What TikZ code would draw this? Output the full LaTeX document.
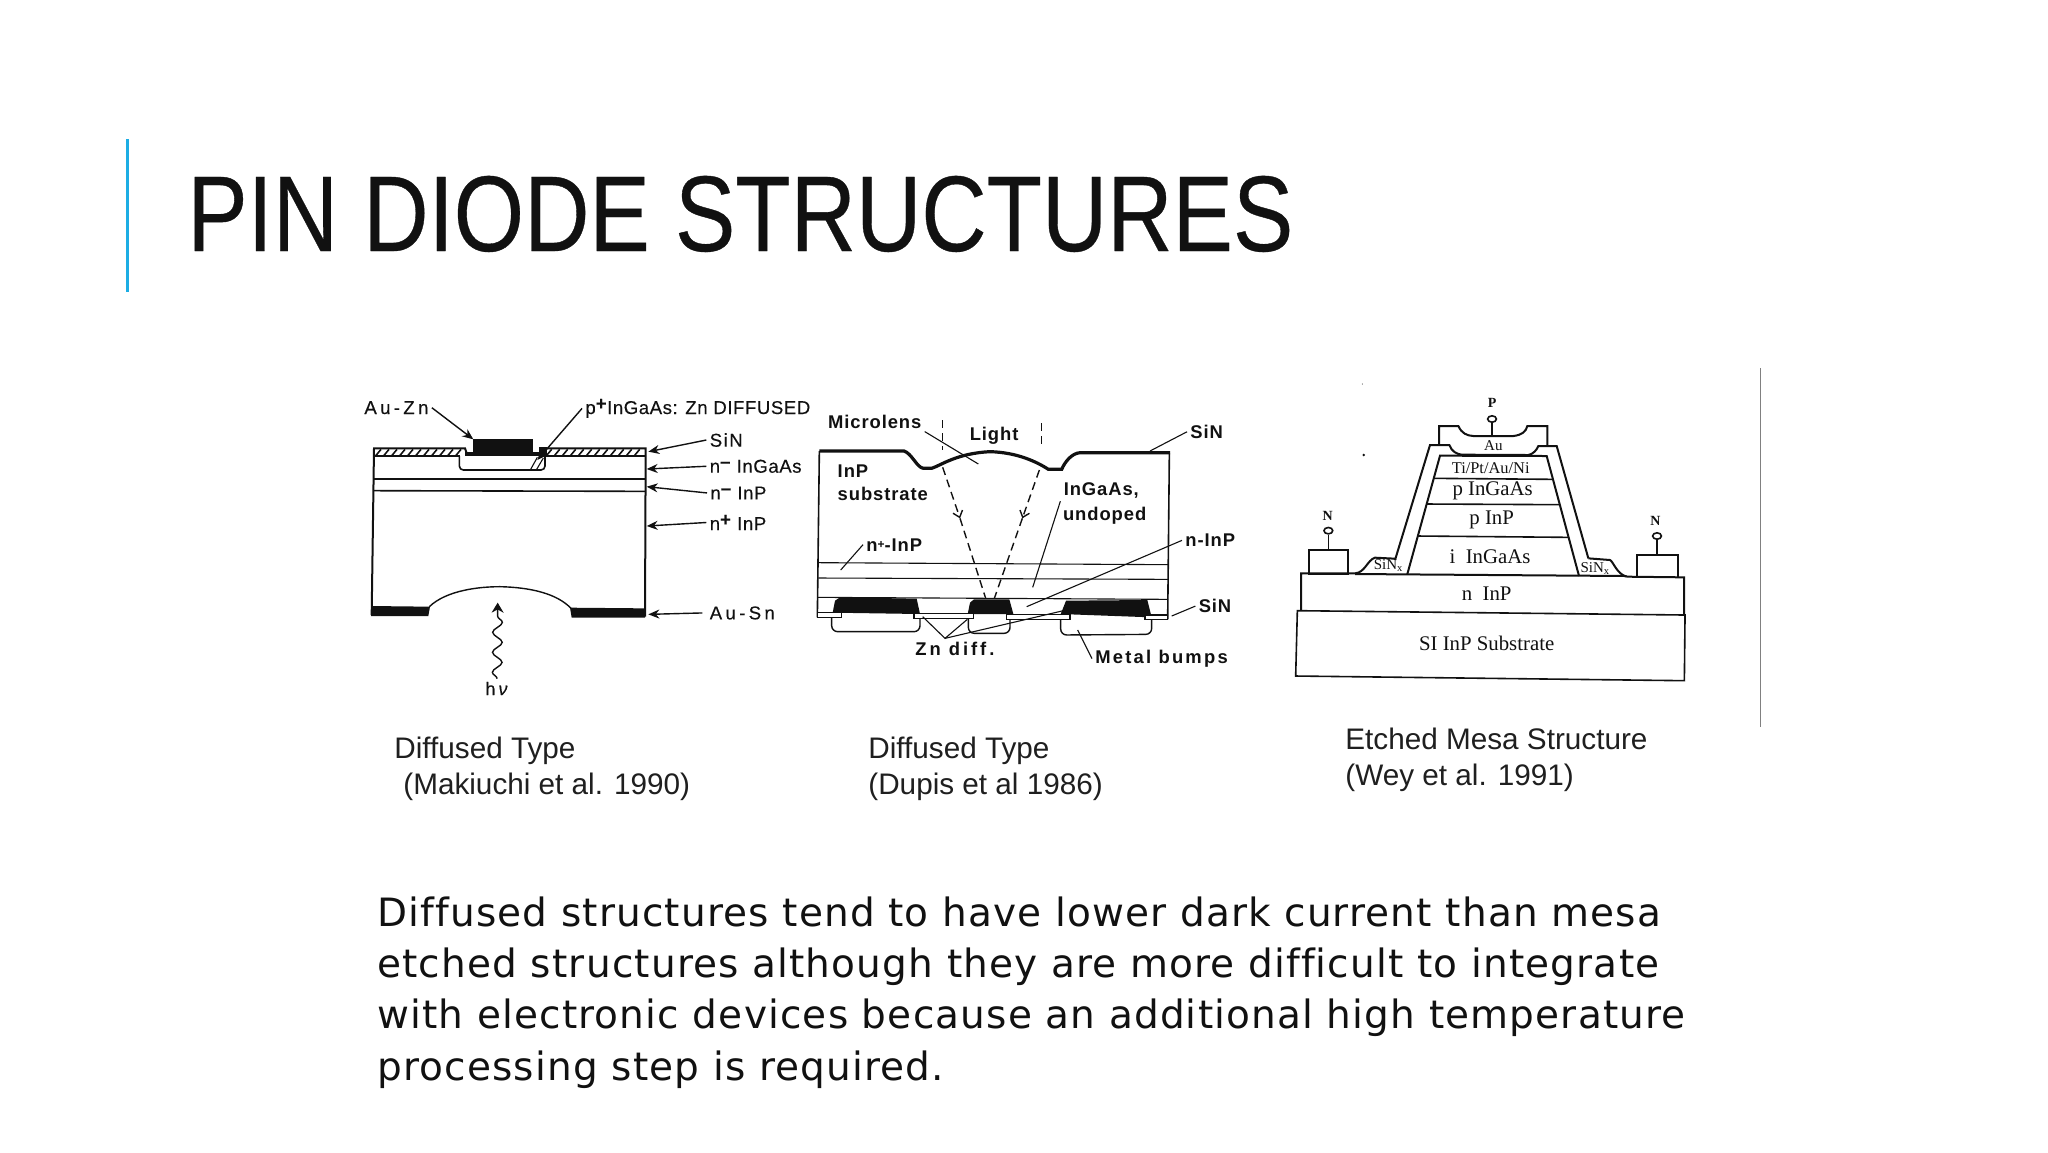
\documentclass[tikz,border=0pt]{standalone}
\usepackage{fontspec}
\setmainfont{Liberation Sans}
\newfontfamily\titlef[FakeBold=0.35]{Liberation Sans}
\newfontfamily\scanA[LetterSpace=3,FakeBold=0.25]{Liberation Sans}
\newfontfamily\scanS[LetterSpace=8,FakeBold=0.25]{Liberation Sans}
\newfontfamily\scanW[LetterSpace=18,FakeBold=0.25]{Liberation Sans}
\newfontfamily\scanB[LetterSpace=5]{Liberation Sans Bold}
\newfontfamily\scanBW[LetterSpace=12]{Liberation Sans Bold}
\newfontfamily\scanZ[LetterSpace=16]{Liberation Sans Bold}
\newfontfamily\serifd{Liberation Serif}
\newfontfamily\bodyf[LetterSpace=3,Ligatures=NoCommon]{DejaVu Sans}
\usetikzlibrary{arrows.meta,decorations.pathmorphing,shapes.geometric}
\newcommand{\fsz}[1]{\fontsize{#1}{#1}\selectfont}
\definecolor{ink}{HTML}{111111}
\definecolor{barblue}{HTML}{1CADE4}
\tikzset{
  lab/.style={inner sep=1.5pt,anchor=base west,xshift=-1.5pt,text=ink},
  laba/.style={lab,font=\scanA\fsz{9.3}},
  labs/.style={lab,font=\scanS\fsz{9.3}},
  labw/.style={lab,font=\scanW\fsz{9.3}},
  labb/.style={lab,font=\scanB\fsz{9.2}},
  slab/.style={inner sep=0pt,anchor=center,text=ink,font=\serifd\fsz{10.4}},
  caption/.style={inner sep=0pt,anchor=base west,text=black!88,font=\fsz{14.85}},
  bodyline/.style={inner sep=0pt,anchor=base west,text=ink,font=\bodyf\fsz{19.5}},
  arr/.style={ink,line width=.7pt,-{Stealth[length=5.5pt,width=4.5pt]}},
  thin line/.style={ink,line width=.55pt},
  outl/.style={ink,line width=1pt},
  term/.style={draw=ink,line width=.8pt,ellipse,inner sep=0pt,minimum width=4.4pt,minimum height=3.2pt},
  pad/.style={draw=ink,line width=.9pt,inner sep=0pt,anchor=north west},
  zoomA/.style={shift={(175pt,-190pt)},x=0.16667pt,y=-0.16667pt},
  zoomB/.style={shift={(405pt,-195pt)},x=0.16667pt,y=-0.16667pt},
  zoomC/.style={shift={(640pt,-185pt)},x=0.16667pt,y=-0.16667pt},
}
\begin{document}
\begin{tikzpicture}[x=.5pt,y=-.5pt]
\fill[white] (0,0) rectangle (2048,1152);
\useasboundingbox (0,0) rectangle (2048,1152);

% ---------- title ----------
\fill[barblue] (126,139) rectangle (129,292);
\node[inner sep=0pt,anchor=base west,xscale=.841,text=ink,font=\titlef\fsz{53.8}] (title) at (187,251) {PIN DIODE STRUCTURES};
\draw[black!50,line width=.45pt] (1760,368) -- (1760,727);

% ---------- diagram 1 ----------
\begin{scope}[zoomA]
  % well
  \draw[outl,rounded corners=2pt,line width=.8pt] (328,228) -- (328,270) -- (585,270) -- (585,228);
  \draw[thin line] (542,268) -- (562,232) (560,268) -- (580,234);
  % SiN hatch
  \foreach \hx in {78,102,...,330}{\draw[ink,line width=.8pt] (\hx,226) -- (\hx+15,208);}
  \foreach \hx in {590,614,...,870}{\draw[ink,line width=.8pt] (\hx,226) -- (\hx+15,208);}
  \draw[outl] (65,705) -- (72,205) -- (345,205) -- (350,220);
  \draw[outl] (570,205) -- (887,205) -- (885,710);
  \draw[thin line] (72,228) -- (330,228) (585,228) -- (887,228);
  \fill[ink] (345,216) rectangle (575,229);
  \fill[ink] (370,178) rectangle (550,222);
  \fill[ink] (568,200) rectangle (592,226);
  \draw[thin line] (72,297) -- (887,297);
  \draw[ink,line width=.8pt] (70,332) -- (885,334);
  % back contact and lens
  \fill[ink] (63,678) -- (240,680) -- (235,708) -- (63,708) -- cycle;
  \fill[ink] (660,683) -- (885,685) -- (885,713) -- (665,713) -- cycle;
  \draw[ink,line width=.7pt] (238,680) .. controls (290,630) and (390,620) .. (450,620) .. controls (540,622) and (620,640) .. (663,685);
  % labels
  \node[labw] (auzn) at (42,102) {Au-Zn};
  \node[laba] (pplus) at (705,102) {p\raisebox{.42ex}{\textbf{+}}InGaAs: Zn DIFFUSED};
  \node[labs] (sin1) at (1078,200) {SiN};
  \node[laba] (ningaas) at (1078,278) {n\raisebox{.5ex}{\textbf{–}} InGaAs};
  \node[laba] (ninp) at (1080,358) {n\raisebox{.5ex}{\textbf{–}} InP};
  \node[laba] (npinp) at (1078,450) {n\raisebox{.42ex}{\textbf{+}} InP};
  \node[labw] (ausn) at (1078,718) {Au-Sn};
  \node[lab,font=\scanS\fsz{9}] (hv) at (405,945) {h\,\textit{ν}};
  \coordinate (tAuzn) at (370,178);
  \coordinate (tP) at (562,240);
  \coordinate (tSin) at (895,215);
  \coordinate (tIng) at (890,267);
  \coordinate (tInp) at (890,320);
  \coordinate (tNp) at (890,438);
  \coordinate (tAus) at (895,703);
  \coordinate (tHv) at (443,668);
  \draw[arr] (auzn.east) -- (tAuzn);
  \draw[arr] (pplus.west) -- (tP);
  \draw[arr] (sin1.west) -- (tSin);
  \draw[arr] (ningaas.west) -- (tIng);
  \draw[arr] (ninp.west) -- (tInp);
  \draw[arr] (npinp.west) -- (tNp);
  \draw[arr] ([xshift=-2pt]ausn.west) -- (tAus);
  \draw[ink,line width=.7pt,decorate,decoration={snake,segment length=10pt,amplitude=2.4pt,post length=5pt},-{Stealth[length=5pt,width=6pt]}] (hv.north) -- (tHv);
\end{scope}

% ---------- diagram 2 ----------
\begin{scope}[zoomB]
  \draw[ink,line width=1.6pt] (28,183) -- (282,183) .. controls (305,190) and (320,232) .. (340,235) -- (365,235) .. controls (395,225) and (440,190) .. (540,185) .. controls (620,187) and (680,215) .. (715,238) -- (755,238) .. controls (765,215) and (785,190) .. (810,188) -- (1080,188);
  \draw[outl,line width=.8pt] (28,183) -- (22,682);
  \draw[outl,line width=.8pt] (1078,190) -- (1073,688);
  \draw[thin line] (26,518) -- (1075,524);
  \draw[thin line] (25,564) -- (1075,568);
  \draw[thin line] (24,622) -- (1074,628);
  % metal bumps
  \draw[outl,line width=.7pt,rounded corners=3pt] (65,682) -- (65,725) -- (330,725) -- (330,682);
  \draw[outl,line width=.7pt,rounded corners=3pt] (475,685) -- (475,730) -- (600,730) -- (600,685);
  \draw[outl,line width=.7pt,rounded corners=3pt] (752,690) -- (752,735) -- (1025,733) -- (1025,690);
  % contacts
  \fill[ink] (68,668) -- (75,632) -- (90,622) -- (320,626) -- (330,672) -- cycle;
  \fill[ink] (473,672) -- (480,638) -- (492,628) -- (598,628) -- (610,672) -- cycle;
  \fill[ink] (752,672) -- (768,632) -- (1012,630) -- (1025,682) -- cycle;
  % SiN strips
  \draw[outl,fill=white,line width=.7pt] (23,668) rectangle (95,682);
  \draw[outl,fill=white,line width=.7pt] (312,670) rectangle (490,685);
  \draw[outl,fill=white,line width=.7pt] (590,673) rectangle (780,688);
  \draw[outl,fill=white,line width=.7pt] (1005,675) rectangle (1073,688);
  % light
  \draw[ink,line width=.7pt,dash pattern=on 4pt off 2.5pt] (398,90) -- (398,180);
  \draw[ink,line width=.7pt,dash pattern=on 4pt off 2.5pt] (695,100) -- (695,175);
  \coordinate (rL0) at (398,232);
  \coordinate (rL1) at (450,385);
  \coordinate (rL2) at (527,625);
  \coordinate (rR0) at (688,240);
  \coordinate (rR1) at (637,385);
  \coordinate (rR2) at (553,625);
  \draw[ink,line width=.7pt,dash pattern=on 4pt off 2.5pt,-{Straight Barb[length=3pt,width=5pt]}] (rL0) -- (rL1);
  \draw[ink,line width=.7pt,dash pattern=on 4pt off 2.5pt] (rL1) -- (rL2);
  \draw[ink,line width=.7pt,dash pattern=on 4pt off 2.5pt,-{Straight Barb[length=3pt,width=5pt]}] (rR0) -- (rR1);
  \draw[ink,line width=.7pt,dash pattern=on 4pt off 2.5pt] (rR1) -- (rR2);
  % labels
  \node[labb] (micro) at (53,114) {Microlens};
  \node[labb] (light) at (478,150) {Light};
  \node[labb] (inp) at (82,262) {InP};
  \node[labb] (subs) at (82,330) {substrate};
  \node[labb] (ing) at (760,315) {InGaAs,};
  \node[labb] (und) at (758,390) {undoped};
  \node[labb] (sin2) at (1140,145) {SiN};
  \node[labb] (npl) at (168,483) {n\raisebox{.3ex}{\fsz{6}+}-InP};
  \node[labb] (nin) at (1125,470) {n-InP};
  \node[labb] (sin3) at (1165,668) {SiN};
  \node[lab,font=\scanZ\fsz{9.2}] (zn) at (315,797) {Zn diff.};
  \node[lab,font=\scanBW\fsz{9.2}] (bump) at (855,820) {Metal bumps};
  \coordinate (tMicro) at (505,222);
  \coordinate (tSin2) at (1020,183);
  \coordinate (tIng2) at (668,592);
  \coordinate (tNpl) at (92,540);
  \coordinate (tNin) at (650,650);
  \coordinate (tSin3) at (1085,678);
  \coordinate (tBump) at (803,720);
  \coordinate (znj) at (405,745);
  \coordinate (zna) at (338,680);
  \coordinate (znb) at (472,688);
  \coordinate (znc) at (760,662);
  \draw[thin line] (micro.south east) -- (tMicro);
  \draw[thin line] (sin2.west) -- (tSin2);
  \draw[thin line] (ing.south west) -- (tIng2);
  \draw[thin line] (npl.west) -- (tNpl);
  \draw[thin line] (nin.west) -- (tNin);
  \draw[thin line] (sin3.west) -- (tSin3);
  \draw[thin line] (bump.west) -- (tBump);
  \draw[thin line] (zna) -- (znj) -- (znb);
  \draw[thin line] (znj) -- (znc);
\end{scope}

% ---------- diagram 3 ----------
\begin{scope}[zoomC]
  \fill[ink] (247,42) circle (1.5);
  \fill[ink] (251,255) circle (4);
  \draw[outl,line width=.8pt] (52,722) -- (1215,735) -- (1213,932) -- (47,918) -- cycle;
  \draw[outl] (63,720) -- (63,610) -- (225,610) .. controls (255,608) and (262,570) .. (285,563) -- (345,566);
  \draw[outl] (1040,620) .. controls (1010,612) and (1000,575) .. (990,570) -- (925,565);
  \draw[outl] (1040,620) -- (1212,622) -- (1212,733);
  \draw[outl] (225,612) -- (1040,618);
  % mesa
  \draw[outl] (382,612) -- (480,257) -- (800,258) -- (897,618);
  \draw[thin line,line width=.8pt] (462,325) -- (820,328);
  \draw[thin line,line width=.8pt] (438,402) -- (840,404);
  \draw[thin line,line width=.8pt] (412,498) -- (865,502);
  % passivation
  \draw[outl] (345,570) -- (450,225) -- (508,225) .. controls (515,245) and (530,252) .. (545,254) -- (745,255) .. controls (760,252) and (770,240) .. (775,228) -- (830,228) -- (925,565);
  % Au contact
  \draw[outl] (477,222) -- (477,168) -- (535,168) .. controls (545,190) and (560,197) .. (580,198) -- (700,198) .. controls (725,195) and (738,185) .. (742,168) -- (802,168) -- (802,226);
  % terminals
  \node[term] (tp) at (636,147) {};
  \node[term] (tnl) at (145,482) {};
  \node[term] (tnr) at (1131,498) {};
  \node[pad,minimum width=19.2pt,minimum height=11.7pt] (padl) at (85,538) {};
  \node[pad,minimum width=20.8pt,minimum height=11.3pt] (padr) at (1067,552) {};
  \coordinate (topAu) at (636,197);
  \draw[outl,line width=.8pt] (tp) -- (topAu);
  \draw[outl,line width=.8pt] (tnl) -- (padl.north -| tnl);
  \draw[outl,line width=.8pt] (tnr) -- (padr.north -| tnr);
  % labels
  \node[slab,font=\serifd\bfseries\fsz{7}] (lp) at (636,100) {P};
  \node[slab,font=\serifd\bfseries\fsz{7}] (lnl) at (143,437) {N};
  \node[slab,font=\serifd\bfseries\fsz{7}] (lnr) at (1126,454) {N};
  \node[slab,font=\serifd\fsz{7.5}] (lau) at (640,228) {Au};
  \node[slab,font=\serifd\fsz{8.2}] (lti) at (632,295) {Ti/Pt/Au/Ni};
  \node[slab] (l1) at (638,362) {p InGaAs};
  \node[slab] (l2) at (635,450) {p InP};
  \node[slab] (l3) at (630,560) {i\ \ InGaAs};
  \node[slab] (l4) at (620,670) {n\ \ InP};
  \node[slab] (l5) at (620,820) {SI InP Substrate};
  \node[slab,font=\serifd\fsz{7.5}] (ls1) at (326,587) {SiN\textsubscript{x}};
  \node[slab,font=\serifd\fsz{7.5}] (ls2) at (946,595) {SiN\textsubscript{x}};
\end{scope}

% ---------- captions ----------
\node[caption] (c1a) at (394,758) {Diffused Type};
\node[caption] (c1b) at (403,794) {(Makiuchi et al. 1990)};
\node[caption] (c2a) at (868,758) {Diffused Type};
\node[caption] (c2b) at (868,794) {(Dupis et al 1986)};
\node[caption] (c3a) at (1345,749) {Etched Mesa Structure};
\node[caption] (c3b) at (1345,785) {(Wey et al. 1991)};

% ---------- body ----------
\node[bodyline] (b1) at (377,926) {Diffused structures tend to have lower dark current than mesa};
\node[bodyline] (b2) at (377,977) {etched structures although they are more difficult to integrate};
\node[bodyline] (b3) at (377,1028) {with electronic devices because an additional high temperature};
\node[bodyline] (b4) at (377,1080) {processing step is required.};
\end{tikzpicture}
\end{document}
